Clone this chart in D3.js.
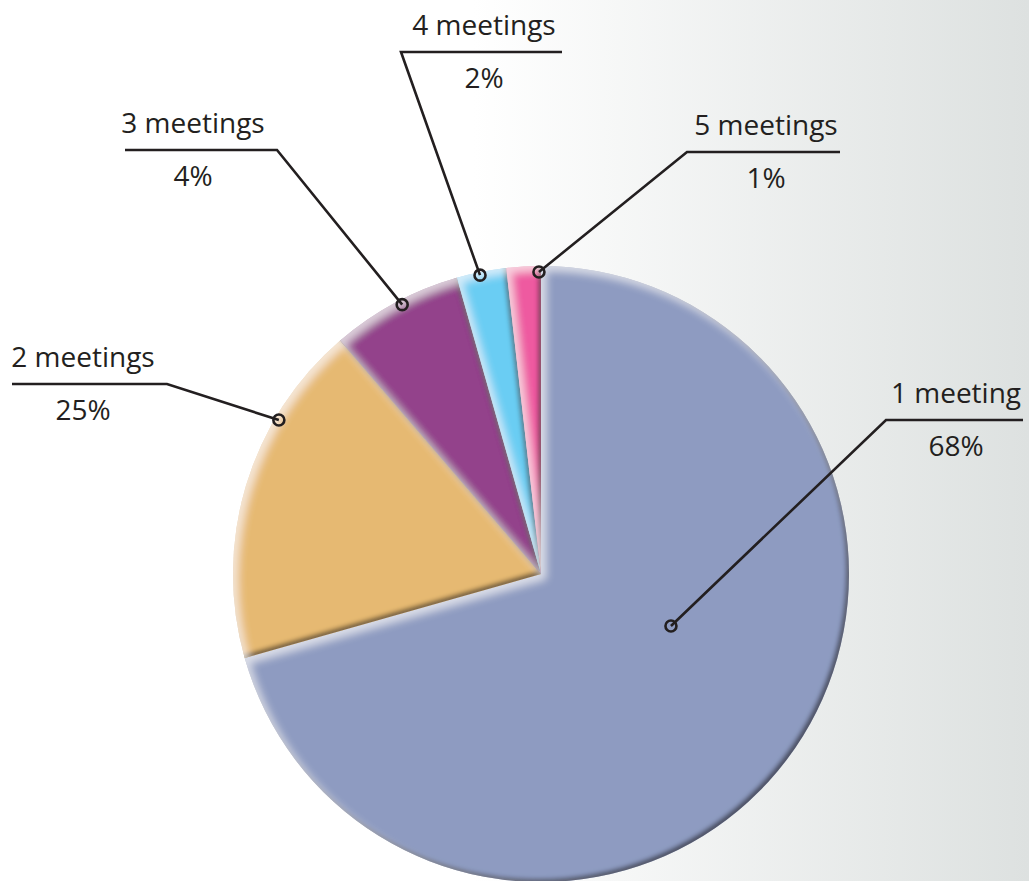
<!DOCTYPE html>
<html>
<head>
<meta charset="utf-8">
<script src="https://cdn.jsdelivr.net/npm/d3@7"></script>
<style>
  body { margin: 0; background: #fff; }
  svg { display: block; }
  text { font-family: "Open Sans", "Noto Sans", sans-serif; font-weight: 400; fill: #231f20; }
</style>
</head>
<body>
<div id="chart"></div>
<script>
const categories = ["1 meeting", "2 meetings", "3 meetings", "4 meetings", "5 meetings"];
const percentLabels = ["68%", "25%", "4%", "2%", "1%"];
// slice sizes as they are drawn in the picture (share of the circle, %)
const sliceShares = [70.6, 18.1, 6.9, 2.6, 1.8];
const colors = ["#8e9bc1", "#e6b972", "#93438b", "#6bcdf3", "#ee5aa0"];

const width = 1029, height = 881;
const cx = 541, cy = 574, radius = 308;

// where each leader touches its slice: fraction along the slice, distance from centre
const leaderAnchor = [[0.44, 140], [0.71, 304], [0.54, 303], [0.46, 305], [0.94, 302]];
// label shelves: knee of the leader, far end of the underline, text centre
const shelves = [
  {knee: [886, 420], end: 1023, tx: 956},
  {knee: [167, 384], end: 12, tx: 83},
  {knee: [277, 150], end: 125, tx: 193},
  {knee: [401, 52], end: 562, tx: 484},
  {knee: [687, 152], end: 840, tx: 766}
];

const svg = d3.select("#chart").append("svg")
  .attr("width", width)
  .attr("height", height);

const defs = svg.append("defs");

// background: white on the left fading to pale grey on the right
const bg = defs.append("linearGradient").attr("id", "bg")
  .attr("x1", 0).attr("x2", 1).attr("y1", 0).attr("y2", 0);
bg.append("stop").attr("offset", "0.46").attr("stop-color", "#ffffff");
bg.append("stop").attr("offset", "1").attr("stop-color", "#dde1e0");

svg.append("rect").attr("width", width).attr("height", height).attr("fill", "url(#bg)");

// soft bevel: dark rim bottom-right, light rim top-left
const f = defs.append("filter").attr("id", "bevel")
  .attr("x", "-10%").attr("y", "-10%").attr("width", "120%").attr("height", "120%");
f.append("feGaussianBlur").attr("in", "SourceAlpha").attr("stdDeviation", 2.2).attr("result", "blurD");
f.append("feOffset").attr("in", "blurD").attr("dx", -3).attr("dy", -3).attr("result", "offDark");
f.append("feComposite").attr("in", "SourceAlpha").attr("in2", "offDark").attr("operator", "out").attr("result", "darkEdge");
f.append("feFlood").attr("flood-color", "#1a1410").attr("flood-opacity", 0.8).attr("result", "darkCol");
f.append("feComposite").attr("in", "darkCol").attr("in2", "darkEdge").attr("operator", "in").attr("result", "dark");
f.append("feGaussianBlur").attr("in", "SourceAlpha").attr("stdDeviation", 4).attr("result", "blurL");
f.append("feOffset").attr("in", "blurL").attr("dx", 5).attr("dy", 5).attr("result", "offLight");
f.append("feComposite").attr("in", "SourceAlpha").attr("in2", "offLight").attr("operator", "out").attr("result", "lightEdge");
f.append("feFlood").attr("flood-color", "#fff").attr("flood-opacity", 0.6).attr("result", "lightCol");
f.append("feComposite").attr("in", "lightCol").attr("in2", "lightEdge").attr("operator", "in").attr("result", "light");
const merge = f.append("feMerge");
merge.append("feMergeNode").attr("in", "SourceGraphic");
merge.append("feMergeNode").attr("in", "dark");
merge.append("feMergeNode").attr("in", "light");

const pie = d3.pie().sort(null).value(d => d);
const arcs = pie(sliceShares);
const arc = d3.arc().innerRadius(0).outerRadius(radius);

const g = svg.append("g").attr("transform", `translate(${cx},${cy})`);

g.selectAll("path.slice")
  .data(arcs)
  .join("path")
  .attr("class", "slice")
  .attr("d", arc)
  .attr("fill", (d, i) => colors[i])
  .attr("filter", "url(#bevel)");

// leader anchor points
const anchors = arcs.map((d, i) => {
  const [t, r] = leaderAnchor[i];
  const a = d.startAngle + t * (d.endAngle - d.startAngle);
  return [cx + r * Math.sin(a), cy - r * Math.cos(a)];
});

const labels = svg.append("g");

categories.forEach((name, i) => {
  const s = shelves[i];
  const p = anchors[i];
  labels.append("path")
    .attr("d", d3.line()([p, s.knee, [s.end, s.knee[1]]]))
    .attr("fill", "none")
    .attr("stroke", "#231f20")
    .attr("stroke-width", 2.6);
  labels.append("circle")
    .attr("cx", p[0]).attr("cy", p[1]).attr("r", 5.5)
    .attr("fill", "none")
    .attr("stroke", "#231f20")
    .attr("stroke-width", 2.6);
  labels.append("text")
    .attr("x", s.tx).attr("y", s.knee[1] - 17)
    .attr("text-anchor", "middle")
    .attr("font-size", 28)
    .text(name);
  labels.append("text")
    .attr("x", s.tx).attr("y", s.knee[1] + 36)
    .attr("text-anchor", "middle")
    .attr("font-size", 28)
    .text(percentLabels[i]);
});
</script>
</body>
</html>
